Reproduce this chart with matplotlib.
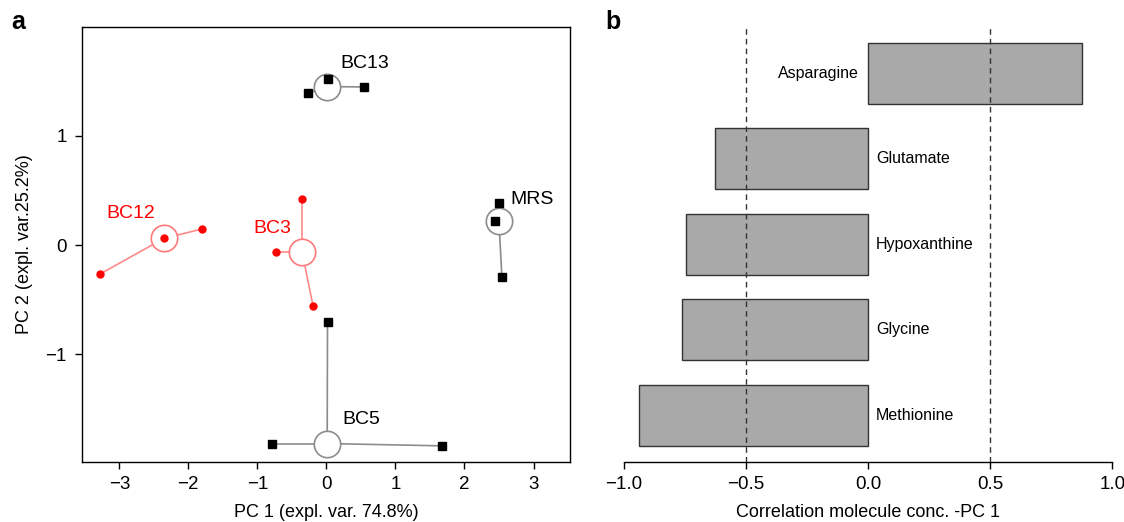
"""PCA score plot with group centroids and PC1 loading correlations."""

import matplotlib

matplotlib.use("Agg")
import matplotlib.pyplot as plt

plt.rcParams["font.family"] = ["Liberation Sans", "DejaVu Sans"]

# panel a: PCA scores, three replicates per group plus the group centre
GROUPS = ["BC13", "MRS", "BC12", "BC3", "BC5"]
GROUP_COLORS = ["black", "black", "red", "red", "black"]
PC1_SCORES = [
    [0.016, -0.268, 0.54],
    [2.504, 2.445, 2.542],
    [-3.28, -2.36, -1.807],
    [-0.354, -0.724, -0.193],
    [0.016, -0.788, 1.668],
]
PC2_SCORES = [
    [1.515, 1.387, 1.445],
    [0.381, 0.22, -0.29],
    [-0.265, 0.061, 0.146],
    [0.424, -0.061, -0.558],
    [-0.707, -1.814, -1.835],
]
CENTER_PC1 = [0.01, 2.499, -2.354, -0.354, 0.011]
CENTER_PC2 = [1.448, 0.22, 0.061, -0.061, -1.814]
LABEL_PC1 = [0.55, 2.98, -2.84, -0.78, 0.50]
LABEL_PC2 = [1.66, 0.42, 0.29, 0.15, -1.595]

# panel b: correlation of molecule concentration with PC 1
MOLECULES = ["Methionine", "Glycine", "Hypoxanthine", "Glutamate", "Asparagine"]
CORRELATIONS = [-0.939, -0.762, -0.746, -0.628, 0.877]

fig = plt.figure(figsize=(11.24, 5.22), dpi=100)
ax_a = fig.add_axes([0.0730, 0.1155, 0.4342, 0.8322])
ax_b = fig.add_axes([0.5549, 0.1155, 0.4347, 0.8333])

line_colors = {"black": "#8c8c8c", "red": "#ff8a8a"}
circle_colors = {"black": "#8c8c8c", "red": "#ff7a7a"}

for i, name in enumerate(GROUPS):
    col = GROUP_COLORS[i]
    cx, cy = CENTER_PC1[i], CENTER_PC2[i]
    for x, y in zip(PC1_SCORES[i], PC2_SCORES[i]):
        ax_a.plot([cx, x], [cy, y], color=line_colors[col], lw=1.2, zorder=1)
    ax_a.plot(cx, cy, "o", ms=19, mfc="white", mec=circle_colors[col],
              mew=1.2, zorder=2)
    marker = "s" if col == "black" else "o"
    ms = 5.5 if col == "black" else 5
    ax_a.plot(PC1_SCORES[i], PC2_SCORES[i], marker, ls="none", ms=ms,
              color=col, zorder=3)
    ax_a.text(LABEL_PC1[i], LABEL_PC2[i], name, color=col, fontsize=14,
              ha="center", va="center")

ax_a.set_xlim(-3.54, 3.53)
ax_a.set_ylim(-1.98, 1.99)
ax_a.set_xticks([-3, -2, -1, 0, 1, 2, 3])
ax_a.set_yticks([-1, 0, 1])
ax_a.tick_params(labelsize=13.5, length=5, width=1, pad=5)
ax_a.tick_params(axis="y", pad=6)
ax_a.set_xlabel("PC 1 (expl. var. 74.8%)", fontsize=13, labelpad=8)
ax_a.set_ylabel("PC 2 (expl. var.25.2%)", fontsize=13, labelpad=9)
for sp in ax_a.spines.values():
    sp.set_linewidth(1)

# panel b
pos = list(range(len(MOLECULES)))
ax_b.barh(pos, CORRELATIONS, height=0.713, color="#a9a9a9",
          edgecolor="#333333", linewidth=1, zorder=1)
for p, name, r in zip(pos, MOLECULES, CORRELATIONS):
    if r > 0:
        ax_b.text(-0.037, p, name, ha="right", va="center", fontsize=11.5)
    else:
        ax_b.text(0.033, p, name, ha="left", va="center", fontsize=11.5)
for v in (-0.5, 0.5):
    ax_b.axvline(v, color="#333333", lw=1, ls=(0, (4, 3)), zorder=2)

ax_b.set_xlim(-1, 1)
ax_b.set_ylim(-0.544, 4.544)
ax_b.set_yticks([])
ax_b.set_xticks([-1.0, -0.5, 0.0, 0.5, 1.0])
ax_b.set_xticklabels(["\u22121.0", "\u22120.5", "0.0", "0.5", "1.0"])
ax_b.tick_params(labelsize=13.5, length=5, width=1, pad=5)
for side in ("top", "right", "left"):
    ax_b.spines[side].set_visible(False)
ax_b.spines["bottom"].set_linewidth(1)
ax_b.set_xlabel("Correlation molecule conc. -PC 1", fontsize=13, labelpad=8)

fig.text(0.010, 0.958, "a", fontsize=18, fontweight="bold", va="center")
fig.text(0.539, 0.958, "b", fontsize=18, fontweight="bold", va="center")

fig.savefig("out.png", dpi=100)
